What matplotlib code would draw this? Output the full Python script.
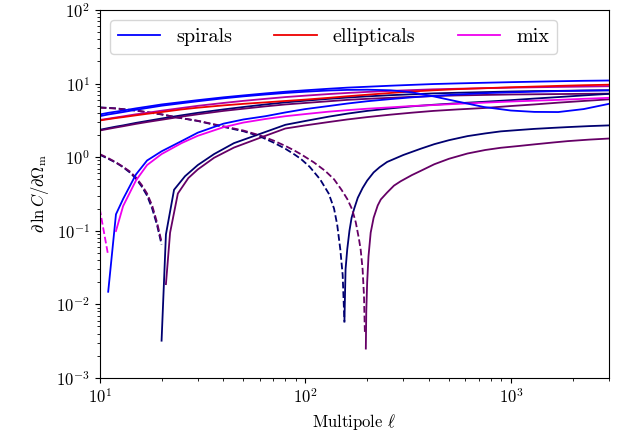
import numpy as np
import matplotlib
matplotlib.use("Agg")
import matplotlib.pyplot as plt

plt.rcParams["font.family"] = "serif"
plt.rcParams["font.serif"] = ["cmr10", "DejaVu Serif"]
plt.rcParams["mathtext.fontset"] = "cm"
plt.rcParams["axes.formatter.use_mathtext"] = True
plt.rcParams["font.size"] = 12

# multipoles used by the full-range curves
ell_full = [10, 11, 12, 13, 15, 17, 20, 25, 30, 40, 50, 64, 80, 100, 130, 160,
            200, 260, 330, 420, 550, 740, 1000, 1300, 1700, 2260, 3000]

# full-range solid curves
spiral_top = [3.8, 4.0, 4.15, 4.3, 4.6, 4.85, 5.2, 5.6, 5.95, 6.5, 6.9, 7.35, 7.75, 8.1,
              8.5, 8.8, 9.05, 9.35, 9.6, 9.85, 10.05, 10.25, 10.45, 10.6, 10.75, 10.9, 11.0]
spiral_wavy = [3.6, 3.8, 3.95, 4.1, 4.4, 4.65, 5.0, 5.4, 5.75, 6.3, 6.7, 7.1, 7.45, 7.75,
               8.05, 8.2, 8.25, 8.1, 7.6, 6.7, 5.7, 4.8, 4.3, 4.12, 4.1, 4.5, 5.3]
ellip_top = [3.15, 3.28, 3.4, 3.5, 3.7, 3.88, 4.1, 4.45, 4.7, 5.05, 5.3, 5.55, 5.8, 6.05,
             6.4, 6.72, 7.05, 7.45, 7.8, 8.1, 8.4, 8.65, 8.9, 9.1, 9.3, 9.5, 9.65]
mix_top = [3.2, 3.33, 3.46, 3.58, 3.82, 4.0, 4.28, 4.65, 4.98, 5.45, 5.82, 6.2, 6.55, 6.85,
           7.2, 7.45, 7.7, 7.95, 8.15, 8.35, 8.5, 8.65, 8.8, 8.9, 9.0, 9.1, 9.2]
spiral_low = [2.35, 2.48, 2.6, 2.7, 2.92, 3.1, 3.35, 3.7, 4.0, 4.45, 4.8, 5.2, 5.55, 5.85,
              6.2, 6.45, 6.7, 6.95, 7.15, 7.35, 7.5, 7.65, 7.8, 7.9, 7.95, 8.05, 8.1]
mix_low = [2.3, 2.42, 2.53, 2.63, 2.83, 3.0, 3.22, 3.55, 3.82, 4.25, 4.55, 4.9, 5.2, 5.45,
           5.75, 6.0, 6.2, 6.4, 6.6, 6.75, 6.9, 7.0, 7.1, 7.15, 7.2, 7.25, 7.3]

# curves crossing zero near ell ~ 11-12
ell_a_sp = [11, 12, 13, 15, 17, 20, 25, 30, 40, 50, 64, 80, 100, 130, 160, 200, 260, 330,
            420, 550, 740, 1000, 1300, 1700, 2260, 3000]
val_a_sp = [0.0148, 0.167, 0.27, 0.58, 0.9, 1.2, 1.65, 2.15, 2.85, 3.25, 3.6, 4.05, 4.5,
            4.95, 5.35, 5.75, 6.15, 6.5, 6.8, 7.1, 7.4, 7.6, 7.75, 7.9, 8.0, 8.1]
ell_a_mx = [12, 13, 15, 17, 20, 25, 30, 40, 50, 64, 80, 100, 130, 160, 200, 260, 330,
            420, 550, 740, 1000, 1300, 1700, 2260, 3000]
val_a_mx = [0.099, 0.216, 0.48, 0.78, 1.1, 1.55, 1.95, 2.55, 2.95, 3.3, 3.6, 3.85, 4.15,
            4.35, 4.55, 4.75, 4.95, 5.1, 5.3, 5.5, 5.7, 5.85, 6.0, 6.2, 6.4]
ell_a_neg = [10, 11]
val_a_neg = [0.2, 0.046]

# curves crossing zero near ell ~ 20
ell_b_neg = [10, 11, 12, 13, 14, 15, 16, 17, 18, 19, 20]
val_b_neg_sp = [1.08, 0.95, 0.84, 0.73, 0.62, 0.51, 0.4, 0.3, 0.2, 0.12, 0.065]
val_b_neg_mx = [1.1, 0.97, 0.85, 0.74, 0.64, 0.53, 0.42, 0.32, 0.22, 0.13, 0.07]
ell_b_sp = [20, 21, 23, 26, 30, 36, 45, 64, 80, 100, 130, 160, 200, 260, 330, 420, 550,
            740, 1000, 1300, 1700, 2260, 3000]
val_b_sp = [0.0032, 0.089, 0.36, 0.55, 0.78, 1.1, 1.55, 2.2, 2.75, 3.1, 3.55, 3.9, 4.25,
            4.6, 4.9, 5.15, 5.4, 5.65, 5.95, 6.25, 6.55, 6.9, 7.25]
ell_b_mx = [21, 22, 24, 27, 30, 36, 45, 64, 80, 100, 130, 160, 200, 260, 330, 420, 550,
            740, 1000, 1300, 1700, 2260, 3000]
val_b_mx = [0.0188, 0.094, 0.32, 0.52, 0.68, 0.98, 1.35, 1.95, 2.45, 2.7, 3.0, 3.25, 3.5,
            3.78, 4.02, 4.25, 4.45, 4.65, 4.95, 5.2, 5.5, 5.8, 6.1]

# curves crossing zero near ell ~ 155-195
ell_c_neg_sp = [10, 12, 15, 20, 24, 30, 42, 50, 60, 70, 80, 88, 95, 105, 118, 130, 138,
                143, 148, 152, 155]
val_c_neg_sp = [4.75, 4.6, 4.3, 3.8, 3.45, 3.1, 2.5, 2.25, 1.92, 1.58, 1.3, 1.1, 0.95,
                0.74, 0.5, 0.32, 0.2, 0.12, 0.056, 0.025, 0.0058]
ell_c_neg_mx = [10, 12, 15, 20, 24, 30, 42, 50, 60, 70, 80, 88, 95, 110, 125, 138, 150,
                160, 169, 176, 182, 186, 190, 193, 195]
val_c_neg_mx = [4.7, 4.58, 4.3, 3.82, 3.45, 3.12, 2.55, 2.3, 1.98, 1.68, 1.42, 1.24, 1.1,
                0.85, 0.65, 0.5, 0.36, 0.27, 0.195, 0.13, 0.08, 0.055, 0.03, 0.013, 0.0039]
ell_c_sp = [155, 157, 160, 164, 168, 173, 180, 190, 200, 215, 230, 250, 300, 364, 424,
            500, 615, 750, 893, 1100, 1297, 1600, 1888, 2400, 3000]
val_c_sp = [0.0058, 0.03, 0.056, 0.1, 0.15, 0.2, 0.28, 0.38, 0.48, 0.62, 0.73, 0.86,
            1.07, 1.3, 1.5, 1.7, 1.93, 2.1, 2.24, 2.34, 2.42, 2.5, 2.56, 2.64, 2.7]
ell_c_mx = [197, 198, 200, 203, 208, 215, 225, 233, 250, 270, 291, 330, 364, 424, 500,
            615, 750, 893, 1100, 1297, 1600, 1888, 2400, 3000]
val_c_mx = [0.0025, 0.008, 0.02, 0.045, 0.094, 0.15, 0.22, 0.266, 0.33, 0.41, 0.47, 0.57,
            0.65, 0.8, 0.95, 1.12, 1.25, 1.34, 1.42, 1.49, 1.58, 1.65, 1.73, 1.79]

blue = "#0000ff"
red = "#ee0000"
magenta = "#ee00ee"
navy = "#000070"
purple = "#660066"
dkmag = "#b000a0"

fig = plt.figure(figsize=(6.23, 4.44), dpi=100)
ax = fig.add_axes([0.16, 0.149, 0.8175, 0.8285])
lw = 1.3

# dark cross-type curves first
ax.plot(ell_full, spiral_low, color=navy, lw=lw)
ax.plot(ell_full, mix_low, color=purple, lw=lw)
ax.plot(ell_b_sp, val_b_sp, color=navy, lw=lw)
ax.plot(ell_b_mx, val_b_mx, color=purple, lw=lw)
ax.plot(ell_c_sp, val_c_sp, color=navy, lw=lw)
ax.plot(ell_c_mx, val_c_mx, color=purple, lw=lw)
ax.plot(ell_b_neg, val_b_neg_sp, color=navy, lw=lw, ls="--")
ax.plot(ell_b_neg, val_b_neg_mx, color=purple, lw=lw, ls="--")
ax.plot(ell_c_neg_sp, val_c_neg_sp, color=navy, lw=lw, ls="--")
ax.plot(ell_c_neg_mx, val_c_neg_mx, color=purple, lw=lw, ls="--")

# auto curves
ax.plot(ell_full, mix_top, color=dkmag, lw=lw)
ax.plot(ell_full, ellip_top, color=red, lw=lw)
ax.plot(ell_a_sp, val_a_sp, color=blue, lw=lw)
ax.plot(ell_a_mx, val_a_mx, color=magenta, lw=lw)
ax.plot(ell_a_neg, val_a_neg, color=magenta, lw=lw, ls="--")
ax.plot(ell_full, spiral_wavy, color=blue, lw=lw)
ax.plot(ell_full, spiral_top, color=blue, lw=lw)

# legend proxies
ax.plot([], [], color=blue, lw=lw, label="spirals")
ax.plot([], [], color=red, lw=lw, label="ellipticals")
ax.plot([], [], color=magenta, lw=lw, label="mix")

ax.set_xscale("log")
ax.set_yscale("log")
ax.set_xlim(10, 3000)
ax.set_ylim(1e-3, 1e2)
ax.set_xlabel(r"Multipole $\ell$")
ax.set_ylabel(r"$\partial\,\ln C/\partial\Omega_{\rm m}$")
ax.legend(loc="upper left", ncol=3, fontsize=14.5, handlelength=2.1,
          columnspacing=2.1)

fig.savefig("out.png", dpi=100)
